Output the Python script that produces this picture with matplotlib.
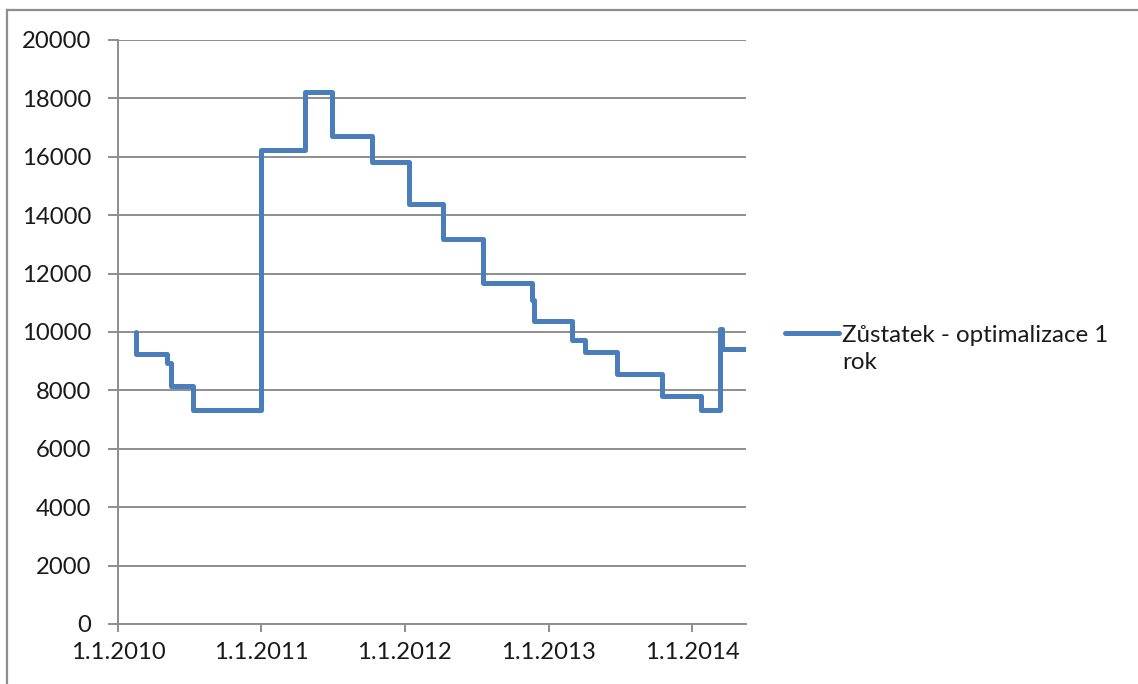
import matplotlib
matplotlib.use("Agg")
import matplotlib.pyplot as plt
from matplotlib.lines import Line2D
import pandas as pd

plt.rcParams['font.family'] = ['Lato', 'DejaVu Sans']

# Data: step changes of the balance (value holds until next date)
dates = ["2010-02-15", "2010-02-16", "2010-05-06", "2010-05-16", "2010-07-10",
         "2011-01-01", "2011-04-22", "2011-06-30", "2011-10-10", "2012-01-11",
         "2012-04-08", "2012-07-17", "2012-11-20", "2012-11-25", "2013-02-28",
         "2013-04-04", "2013-06-25", "2013-10-17", "2014-01-23", "2014-03-14",
         "2014-03-19", "2014-05-18"]
values = [10000, 9240, 8940, 8150, 7330,
          16230, 18220, 16710, 15820, 14380,
          13180, 11680, 11100, 10380, 9730,
          9320, 8560, 7810, 7330, 10100,
          9420, 9420]
series_name = "Zůstatek - optimalizace 1\nrok"
y_ticks = [0, 2000, 4000, 6000, 8000, 10000, 12000, 14000, 16000, 18000, 20000]
x_tick_dates = ["2010-01-01", "2011-01-01", "2012-01-01", "2013-01-01", "2014-01-01"]
x_tick_labels = ["1.1.2010", "1.1.2011", "1.1.2012", "1.1.2013", "1.1.2014"]

x = pd.to_datetime(dates)
xt = pd.to_datetime(x_tick_dates)

fig = plt.figure(figsize=(11.38, 6.84), dpi=100)
ax = fig.add_axes([118/1138, 1-624/684, (746-118)/1138, (624-40)/684])

line_color = "#4A7EBB"
grid_color = "#8E8E8E"
text_color = "#1A1A1A"
ax.step(x, values, where="post", color=line_color, lw=3.6,
        solid_joinstyle="round", solid_capstyle="round", label=series_name)

ax.set_ylim(0, 20000)
ax.set_xlim(pd.Timestamp("2010-01-01"), pd.Timestamp("2014-05-18"))
ax.set_yticks(y_ticks)
ax.set_yticklabels([str(v) for v in y_ticks])
ax.set_xticks(xt)
ax.set_xticklabels(x_tick_labels)

ax.yaxis.grid(True, color=grid_color, lw=1.4)
ax.set_axisbelow(True)
for s in ["top", "right"]:
    ax.spines[s].set_visible(False)
for s in ["left", "bottom"]:
    ax.spines[s].set_color(grid_color)
    ax.spines[s].set_linewidth(1.4)
ax.tick_params(axis="y", length=7, width=1.4, color=grid_color, pad=12,
               labelsize=17.2, labelcolor=text_color)
ax.tick_params(axis="x", length=6, width=1.4, color=grid_color, pad=7,
               labelsize=17.2, labelcolor=text_color)

leg = ax.legend(loc="center left", bbox_to_anchor=(785/1138, 1-349/684),
                bbox_transform=fig.transFigure, frameon=False, fontsize=17.4,
                handlelength=2.25, handletextpad=0.1, borderaxespad=0,
                borderpad=0, labelspacing=0)
for t in leg.get_texts():
    t.set_color(text_color)
    t.set_linespacing(1.3)
# align the legend line with the first text line, as in the original
for hl in leg.get_lines():
    hl.set_ydata([y + 11.5 for y in hl.get_ydata()])
    hl.set_solid_capstyle("round")

# outer chart border (top and left)
fig.add_artist(Line2D([7/1138, 1], [1-10/684, 1-10/684], transform=fig.transFigure,
                      color=grid_color, lw=1.6))
fig.add_artist(Line2D([7/1138, 7/1138], [0, 1-10/684], transform=fig.transFigure,
                      color=grid_color, lw=1.6))

fig.savefig("out.png", dpi=100, facecolor="white")
